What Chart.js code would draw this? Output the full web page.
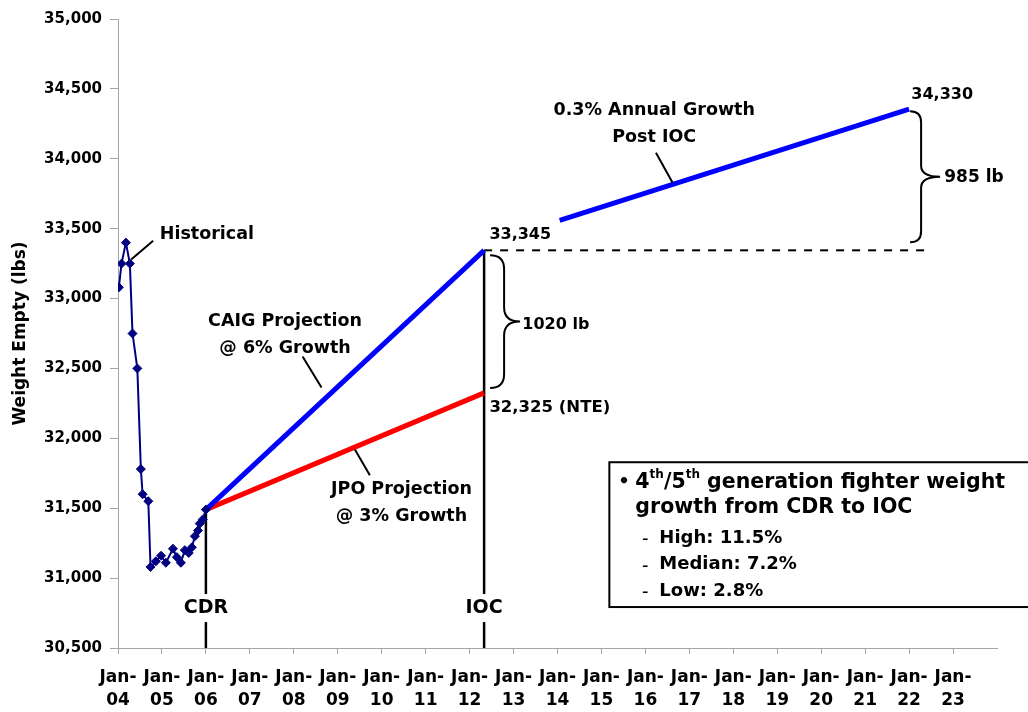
<!DOCTYPE html>
<html>
<head>
<meta charset="utf-8">
<script src="https://cdn.jsdelivr.net/npm/chart.js@4.4.1/dist/chart.umd.min.js"></script>
<style>
  body { margin: 0; background: #fff; }
  #wrap { width: 1028px; height: 712px; }
</style>
</head>
<body>
<div id="wrap"><canvas id="weightChart" width="1028" height="712"></canvas></div>
<script>
// tick labels on the date axis (one per January)
const yearTicks = ['Jan-04', 'Jan-05', 'Jan-06', 'Jan-07', 'Jan-08', 'Jan-09', 'Jan-10', 'Jan-11', 'Jan-12', 'Jan-13',
  'Jan-14', 'Jan-15', 'Jan-16', 'Jan-17', 'Jan-18', 'Jan-19', 'Jan-20', 'Jan-21', 'Jan-22', 'Jan-23'];

// historical weight reports (decimal year, lbs)
const histDate = [2004.02, 2004.08, 2004.18, 2004.27, 2004.33, 2004.44, 2004.52, 2004.56, 2004.69, 2004.74,
  2004.86, 2004.98, 2005.09, 2005.25, 2005.34, 2005.43, 2005.52, 2005.61, 2005.68, 2005.75, 2005.82, 2005.86,
  2005.93, 2006.0];
const histWeight = [33080, 33250, 33400, 33250, 32750, 32500, 31780, 31600, 31550, 31080,
  31120, 31160, 31110, 31210, 31150, 31110, 31200, 31180, 31220, 31300, 31340, 31390,
  31420, 31490];

// milestones
const cdrDate = 2006.0;
const iocDate = 2012.33;
const cdrWeight = 31490;

// projections CDR -> IOC
const caigDates = [cdrDate, iocDate];
const caigWeight = [cdrWeight, 33345];
const jpoDates = [cdrDate, iocDate];
const jpoWeight = [cdrWeight, 32325];

// post IOC growth
const postDates = [2014.05, 2022.0];
const postWeight = [33560, 34355];

// reference level at IOC
const refDates = [iocDate, 2022.36];
const refWeight = [33345, 33345];

const yMin = 30500, yMax = 35000;

const FONT = '"DejaVu Sans", "Liberation Sans", Arial, sans-serif';

function pts(xs, ys) {
  return xs.map((x, i) => ({ x: x, y: ys[i] }));
}

// text and bracket notes, placed in data units
const notes = [
  { lines: ['Historical'], x: 2004.95, y: 33457, align: 'left', size: 17.5 },
  { lines: ['CAIG Projection', '@ 6% Growth'], x: 2007.8, y: 32836, align: 'center', size: 17.5 },
  { lines: ['JPO Projection', '@ 3% Growth'], x: 2010.45, y: 31636, align: 'center', size: 17.5 },
  { lines: ['0.3% Annual Growth', 'Post IOC'], x: 2016.2, y: 34343, align: 'center', size: 17.5 },
  { lines: ['33,345'], x: 2012.45, y: 33457, align: 'left', size: 16 },
  { lines: ['32,325 (NTE)'], x: 2012.45, y: 32221, align: 'left', size: 16.5 },
  { lines: ['1020 lb'], x: 2013.2, y: 32814, align: 'left', size: 16 },
  { lines: ['34,330'], x: 2022.05, y: 34457, align: 'left', size: 16 },
  { lines: ['985 lb'], x: 2022.8, y: 33864, align: 'left', size: 17 }
];
const leaders = [
  [2004.30, 33279, 2004.80, 33414],
  [2008.20, 32586, 2008.63, 32364],
  [2009.39, 31921, 2009.73, 31736],
  [2016.24, 34043, 2016.62, 33829]
];

function brace(ctx, x, y1, y2, r, w) {
  const mid = (y1 + y2) / 2;
  ctx.beginPath();
  ctx.moveTo(x, y1);
  ctx.quadraticCurveTo(x + r, y1, x + r, y1 + r);
  ctx.lineTo(x + r, mid - r);
  ctx.quadraticCurveTo(x + r, mid, x + w, mid);
  ctx.quadraticCurveTo(x + r, mid, x + r, mid + r);
  ctx.lineTo(x + r, y2 - r);
  ctx.quadraticCurveTo(x + r, y2, x, y2);
  ctx.stroke();
}

// draw a run of text pieces; sup pieces are small and raised
function richText(ctx, parts, x, y, size) {
  let cx = x;
  parts.forEach(p => {
    const s = p.sup ? Math.round(size * 0.6) : size;
    ctx.font = 'bold ' + s + 'px ' + FONT;
    ctx.fillText(p.t, cx, p.sup ? y - size * 0.35 : y);
    cx += ctx.measureText(p.t).width;
  });
}

const notesPlugin = {
  id: 'notes',
  afterDatasetsDraw(chart) {
    const ctx = chart.ctx;
    const xs = chart.scales.x, ys = chart.scales.y;
    const px = v => xs.getPixelForValue(v);
    const py = v => ys.getPixelForValue(v);
    ctx.save();
    ctx.fillStyle = '#000';
    ctx.strokeStyle = '#000';
    ctx.textBaseline = 'middle';

    notes.forEach(n => {
      ctx.font = 'bold ' + n.size + 'px ' + FONT;
      ctx.textAlign = n.align;
      n.lines.forEach((t, i) => ctx.fillText(t, px(n.x), py(n.y) + i * 27));
    });

    ctx.lineWidth = 2;
    leaders.forEach(l => {
      ctx.beginPath();
      ctx.moveTo(px(l[0]), py(l[1]));
      ctx.lineTo(px(l[2]), py(l[3]));
      ctx.stroke();
    });

    // brackets
    brace(ctx, px(iocDate) + 6, py(caigWeight[1]) + 5, py(jpoWeight[1]) - 5, 14, 30);
    brace(ctx, px(postDates[1]) + 1, py(postWeight[1]) + 2, py(refWeight[0]) - 8, 11, 30);

    // milestone labels sitting on the vertical lines
    ctx.font = 'bold 19px ' + FONT;
    ctx.textAlign = 'center';
    [['CDR', cdrDate], ['IOC', iocDate]].forEach(m => {
      const w = ctx.measureText(m[0]).width + 8;
      const y = py(30786);
      ctx.fillStyle = '#fff';
      ctx.fillRect(px(m[1]) - w / 2, y - 14, w, 28);
      ctx.fillStyle = '#000';
      ctx.fillText(m[0], px(m[1]), y);
    });

    // summary box
    const bx = px(2015.18), by = py(31829), bb = py(30793);
    ctx.fillStyle = '#fff';
    ctx.fillRect(bx, by, chart.width - bx + 10, bb - by);
    ctx.lineWidth = 2;
    ctx.strokeRect(bx, by, chart.width - bx + 10, bb - by);
    ctx.fillStyle = '#000';
    ctx.textAlign = 'left';
    ctx.font = 'bold 18px ' + FONT;
    ctx.fillText('\u2022', bx + 9, by + 20);
    richText(ctx, [{ t: '4' }, { t: 'th', sup: true }, { t: '/5' }, { t: 'th', sup: true },
      { t: ' generation fighter weight' }], bx + 26, by + 20, 20.5);
    ctx.font = 'bold 20.5px ' + FONT;
    ctx.fillText('growth from CDR to IOC', bx + 26, by + 45);
    ['High: 11.5%', 'Median: 7.2%', 'Low: 2.8%'].forEach((t, i) => {
      const y = by + 76 + i * 26.5;
      ctx.font = 'bold 12px ' + FONT;
      ctx.fillText('\u2013', bx + 33, y + 2);
      ctx.font = 'bold 18px ' + FONT;
      ctx.fillText(t, bx + 50, y);
    });
    ctx.restore();
  }
};

const axisGray = '#a6a6a6';

new Chart(document.getElementById('weightChart'), {
  type: 'line',
  data: {
    datasets: [
      {
        data: pts(histDate, histWeight),
        borderColor: '#000080', backgroundColor: '#000080', borderWidth: 2,
        pointStyle: 'rectRot', pointRadius: 4.5, pointBorderWidth: 1, pointBackgroundColor: '#000080'
      },
      { data: pts(caigDates, caigWeight), borderColor: '#0000ff', borderWidth: 5, pointRadius: 0 },
      { data: pts(jpoDates, jpoWeight), borderColor: '#ff0000', borderWidth: 5, pointRadius: 0 },
      { data: pts(postDates, postWeight), borderColor: '#0000ff', borderWidth: 5, pointRadius: 0 },
      { data: pts(refDates, refWeight), borderColor: '#000', borderWidth: 2, borderDash: [8, 8], pointRadius: 0 },
      { data: pts([cdrDate, cdrDate], [yMin, cdrWeight]), borderColor: '#000', borderWidth: 2.5, pointRadius: 0 },
      { data: pts([iocDate, iocDate], [yMin, caigWeight[1]]), borderColor: '#000', borderWidth: 2.5, pointRadius: 0 }
    ]
  },
  options: {
    responsive: false,
    animation: false,
    layout: { padding: { top: 19, right: 31, left: 0, bottom: 0 } },
    plugins: { legend: { display: false }, tooltip: { enabled: false } },
    scales: {
      x: {
        type: 'linear', min: 2004, max: 2024,
        afterFit: s => { s.height = 64; },
        grid: {
          drawOnChartArea: false, drawTicks: true, tickLength: 6,
          color: c => (c.tick && c.tick.value === 2024 ? 'rgba(0,0,0,0)' : axisGray)
        },
        border: { color: axisGray, width: 1 },
        ticks: {
          stepSize: 1, autoSkip: false, maxRotation: 0, padding: 12, color: '#000',
          font: { family: FONT, size: 17, weight: 'bold', lineHeight: 1.35 },
          callback: (v, i) => (yearTicks[i] ? yearTicks[i].replace('-', '-\n').split('\n') : '')
        }
      },
      y: {
        min: yMin, max: yMax,
        afterFit: s => { s.width = 118; },
        grid: { drawOnChartArea: false, drawTicks: true, tickLength: 8, color: axisGray },
        border: { color: axisGray, width: 1 },
        title: {
          display: true, text: 'Weight Empty (lbs)', color: '#000', padding: { top: 10, bottom: 0 },
          font: { family: FONT, size: 17, weight: 'bold' }
        },
        ticks: {
          stepSize: 500, padding: 8, color: '#000',
          font: { family: FONT, size: 15, weight: 'bold' },
          callback: v => v.toLocaleString('en-US')
        }
      }
    }
  },
  plugins: [notesPlugin]
});
</script>
</body>
</html>
